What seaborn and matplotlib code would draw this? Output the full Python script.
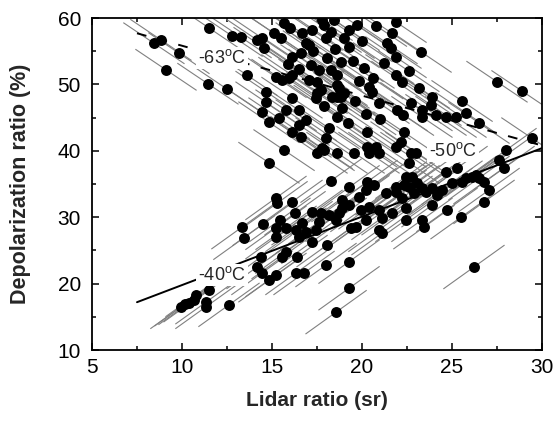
import matplotlib
matplotlib.use("Agg")
import matplotlib.pyplot as plt
from matplotlib.collections import LineCollection
from matplotlib.ticker import MultipleLocator
import numpy as np
import pandas as pd
import seaborn as sns

# ---------------- data ----------------
# -63 C group (upper cloud): lidar ratio (sr), depolarization ratio (%)
upper_lidar = [8.44, 8.83, 9.11, 9.83, 11.5, 11.44, 12.5, 12.78, 13.28, 14.17, 14.56, 13.61, 14.83,
               14.44, 14.67, 14.67, 14.44, 14.83, 15.11, 15.5, 15.67, 15.22, 15.56, 15.94, 15.78, 15.39,
               16.11, 16.11, 16.11, 16.5, 16.5, 16.5, 16.61, 16.61, 16.67, 15.67, 17.06, 17.06, 17.22,
               17.17, 17.5, 17.44, 17.5, 17.61, 17.72, 17.78, 17.78, 17.89, 18.0, 18.06, 18.28, 18.33,
               18.44, 18.61, 18.61, 18.61, 18.61, 18.61, 18.72, 18.83, 18.83, 18.89, 19.0, 19.28, 19.28,
               19.56, 19.72, 19.83, 20.11, 20.28, 20.39, 20.39, 20.56, 20.78, 20.94, 21.39, 21.61, 21.67,
               21.89, 21.89, 21.89, 21.89, 21.94, 22.22, 22.33, 22.72, 22.72, 23.17, 23.28, 23.33, 23.89,
               23.83, 24.11, 24.67, 25.22, 25.56, 25.78, 26.5, 27.5, 28.89, 29.44, 18.17, 20.28, 17.5,
               17.89, 20.94, 22.17, 23.0, 22.61, 23.33, 16.11, 18.0,
               16.0, 16.9, 17.3, 18.5, 19.0, 19.5, 20.0, 20.8, 21.2, 17.9, 19.6, 20.2, 16.9, 19.2,
               21.0, 22.3, 15.9, 18.3, 20.6, 22.6]
upper_depol = [56.2, 56.7, 52.2, 54.7, 58.5, 50.1, 49.3, 57.3, 57.1, 56.7, 55.5, 51.4, 38.2,
               57.0, 48.9, 47.3, 45.8, 44.3, 57.7, 57.0, 59.2, 51.1, 50.7, 51.0, 46.1, 44.9,
               54.1, 51.4, 48.0, 52.3, 46.1, 43.9, 54.7, 42.1, 57.7, 40.1, 55.9, 50.7, 58.2,
               52.9, 50.4, 48.0, 48.7, 52.2, 49.2, 59.7, 40.4, 58.9, 57.0, 54.0, 57.9, 48.1,
               59.7, 51.4, 49.9, 48.1, 45.1, 39.7, 49.5, 53.4, 48.1, 46.4, 48.7, 58.2, 55.6,
               39.7, 58.9, 50.5, 52.5, 40.6, 49.6, 39.7, 48.9, 40.6, 47.2, 56.2, 55.5, 57.7,
               59.4, 54.1, 51.4, 40.6, 46.1, 50.4, 42.8, 47.2, 39.7, 49.5, 54.9, 46.1, 48.1,
               46.9, 45.4, 45.1, 45.1, 47.5, 45.7, 44.2, 50.4, 49.0, 41.9, 43.4, 42.8, 39.7,
               40.1, 39.7, 41.3, 39.7, 38.2, 45.1, 42.8, 41.9,
               58.5, 56.2, 55.0, 55.3, 57.0, 53.5, 56.5, 58.8, 53.2, 46.8, 47.5, 45.5, 44.6, 44.2,
               44.8, 45.4, 53.0, 52.2, 50.9, 52.0]

# -40 C group (lower cloud)
lower_lidar = [9.94, 10.17, 10.39, 10.67, 10.78, 11.33, 11.33, 11.5, 12.61, 13.33, 13.44, 14.17, 14.39,
               14.44, 14.5, 14.83, 15.22, 15.22, 15.22, 15.22, 15.28, 15.44, 15.78, 15.78, 15.56, 16.11,
               16.28, 16.33, 16.33, 16.39, 16.5, 16.67, 16.78, 16.89, 17.22, 17.22, 17.44, 17.61, 17.72,
               18.06, 18.0, 18.17, 18.28, 18.56, 18.72, 18.89, 18.89, 19.28, 19.28, 19.28, 19.39, 19.67,
               19.83, 19.94, 20.22, 20.28, 20.22, 20.39, 20.67, 20.94, 20.94, 21.11, 21.11, 21.33, 21.67,
               21.89, 21.89, 22.22, 22.33, 22.44, 22.44, 22.44, 22.61, 22.78, 22.89, 23.06, 23.33, 23.33,
               23.44, 23.56, 23.89, 23.89, 24.17, 24.44, 24.67, 24.72, 25.0, 25.28, 25.5, 25.56, 25.78,
               26.11, 26.33, 26.5, 26.78, 26.78, 27.06, 27.61, 27.89, 28.0, 19.28, 18.56, 26.22]
lower_depol = [16.5, 16.9, 17.1, 17.5, 18.3, 17.2, 16.5, 19.0, 16.8, 28.5, 26.9, 22.5, 24.0,
               21.6, 29.0, 20.5, 21.3, 28.4, 27.0, 32.9, 32.1, 29.6, 28.4, 24.8, 24.0, 32.3,
               30.6, 28.1, 21.6, 24.0, 27.0, 29.1, 21.6, 27.8, 26.3, 30.8, 28.1, 29.3, 30.6,
               25.8, 22.8, 30.3, 35.5, 29.6, 30.6, 32.6, 31.4, 34.5, 31.8, 23.3, 28.4, 28.5,
               33.0, 31.1, 34.1, 35.3, 29.6, 31.5, 34.8, 31.1, 28.1, 29.9, 27.6, 33.6, 30.6,
               34.5, 33.8, 32.9, 34.8, 36.1, 31.4, 29.6, 34.5, 36.1, 33.6, 35.2, 34.4, 29.6,
               28.5, 33.8, 34.4, 31.8, 33.3, 34.1, 36.8, 31.1, 35.2, 37.4, 30.0, 35.3, 35.9,
               36.1, 36.4, 35.9, 35.3, 32.3, 34.1, 38.6, 37.4, 40.1, 19.3, 15.7, 22.5]

# correlated uncertainty (half-extent along each axis)
err_lidar = 1.7
err_depol_upper = 3.1
err_depol_lower = 3.3

# temperature reference lines
line63_lidar = [7.5, 30.0]
line63_depol = [57.7, 40.8]
line40_lidar = [7.5, 30.0]
line40_depol = [17.2, 40.4]

# temperature labels
temp_labels = ["-63$^{\\mathrm{o}}$C", "-50$^{\\mathrm{o}}$C", "-40$^{\\mathrm{o}}$C"]
temp_lidar = [12.22, 25.06, 12.22]
temp_depol = [54.0, 40.0, 21.3]

# ---------------- style ----------------
sns.set_style("ticks")
plt.rcParams["font.family"] = ["Liberation Sans", "DejaVu Sans"]
plt.rcParams["mathtext.fontset"] = "custom"
plt.rcParams["mathtext.rm"] = "Liberation Sans"
plt.rcParams["mathtext.it"] = "Liberation Sans:italic"
plt.rcParams["mathtext.bf"] = "Liberation Sans:bold"

fig = plt.figure(figsize=(5.56, 4.28), dpi=100)
ax = fig.add_axes([92 / 556, 78 / 428, 450 / 556, 332 / 428])

up = pd.DataFrame({"lidar": upper_lidar, "depol": upper_depol})
lo = pd.DataFrame({"lidar": lower_lidar, "depol": lower_depol})

# diagonal error lines
seg_up = [[(x - err_lidar, y + err_depol_upper), (x + err_lidar, y - err_depol_upper)]
          for x, y in zip(up["lidar"], up["depol"])]
seg_lo = [[(x - err_lidar, y - err_depol_lower), (x + err_lidar, y + err_depol_lower)]
          for x, y in zip(lo["lidar"], lo["depol"])]
ax.add_collection(LineCollection(seg_up, colors="#808080", linewidths=0.8, zorder=1))
ax.add_collection(LineCollection(seg_lo, colors="#808080", linewidths=0.8, zorder=1))

# reference lines
ax.plot(line63_lidar, line63_depol, color="black", lw=1.4, dashes=(5, 6), zorder=2)
ax.plot(line40_lidar, line40_depol, color="black", lw=1.4, zorder=2)

# points
sns.scatterplot(data=up, x="lidar", y="depol", color="black", s=62, linewidth=0, ax=ax, zorder=3)
sns.scatterplot(data=lo, x="lidar", y="depol", color="black", s=62, linewidth=0, ax=ax, zorder=3)

for t, x, y in zip(temp_labels, temp_lidar, temp_depol):
    ax.text(x, y, t, fontsize=13, ha="center", va="center", zorder=5,
            bbox=dict(facecolor="white", edgecolor="none", pad=1.5))

ax.set_xlim(5, 30)
ax.set_ylim(10, 60)
ax.xaxis.set_major_locator(MultipleLocator(5))
ax.xaxis.set_minor_locator(MultipleLocator(2.5))
ax.yaxis.set_major_locator(MultipleLocator(10))
ax.yaxis.set_minor_locator(MultipleLocator(5))
ax.tick_params(which="both", direction="in", top=True, right=True, width=1.1, colors="black")
ax.tick_params(which="major", length=5, labelsize=15, pad=6)
ax.tick_params(axis="y", which="major", pad=8)
ax.tick_params(which="minor", length=3)
for s in ax.spines.values():
    s.set_linewidth(1.3)
    s.set_color("black")

ax.set_xlabel("Lidar ratio (sr)", fontsize=15, fontweight="bold")
ax.set_ylabel("Depolarization ratio (%)", fontsize=15.5, fontweight="bold")
ax.xaxis.set_label_coords(0.5, -0.125)
ax.yaxis.set_label_coords(-0.135, 0.5)

fig.savefig("out.png", dpi=100)
